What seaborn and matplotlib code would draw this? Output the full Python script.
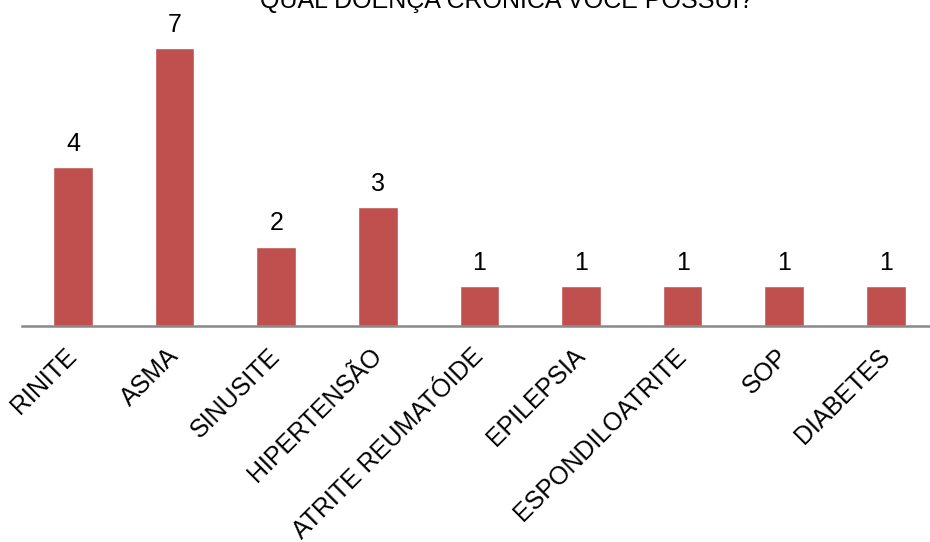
import pandas as pd
import matplotlib
matplotlib.use('Agg')
import matplotlib.pyplot as plt
import seaborn as sns

# Dados do gráfico
doencas = ['RINITE', 'ASMA', 'SINUSITE', 'HIPERTENSÃO', 'ATRITE REUMATÓIDE',
           'EPILEPSIA', 'ESPONDILOATRITE', 'SOP', 'DIABETES']
quantidade = [4, 7, 2, 3, 1, 1, 1, 1, 1]

data = pd.DataFrame({'Doenca': doencas, 'Qtd': quantidade})

sns.set_style("white")
plt.rcParams['font.family'] = ['Liberation Sans', 'DejaVu Sans']

fig = plt.figure(figsize=(9.3, 5.42), dpi=100)
# eixo posicionado para imitar o original (passa um pouco da borda direita)
ax = fig.add_axes([22.2 / 930, 216 / 542, 914.4 / 930, 326 / 542])

sns.barplot(x='Doenca', y='Qtd', data=data, color='#C0504D', width=0.39,
            saturation=1, ax=ax)

ax.set_ylim(0, 326 / 39.7)
ax.set_xlim(-0.5, len(doencas) - 0.5)

for c in ax.containers:
    ax.bar_label(c, fmt='%d', padding=8, fontsize=18, color='black')

ax.set_xlabel('')
ax.set_ylabel('')
ax.set_yticks([])
ax.tick_params(axis='x', length=0, pad=19, labelcolor='black')
plt.setp(ax.get_xticklabels(), rotation=45, ha='right', va='center',
         rotation_mode='anchor', fontsize=18)

for s in ['top', 'left', 'right']:
    ax.spines[s].set_visible(False)
ax.spines['bottom'].set_color('#898989')
ax.spines['bottom'].set_linewidth(1.8)

fig.text(507 / 930, 1 - 8 / 542, 'QUAL DOENÇA CRÔNICA VOCÊ POSSUI?',
         ha='center', va='baseline', fontsize=18, color='black')

fig.savefig('out.png', dpi=100)
